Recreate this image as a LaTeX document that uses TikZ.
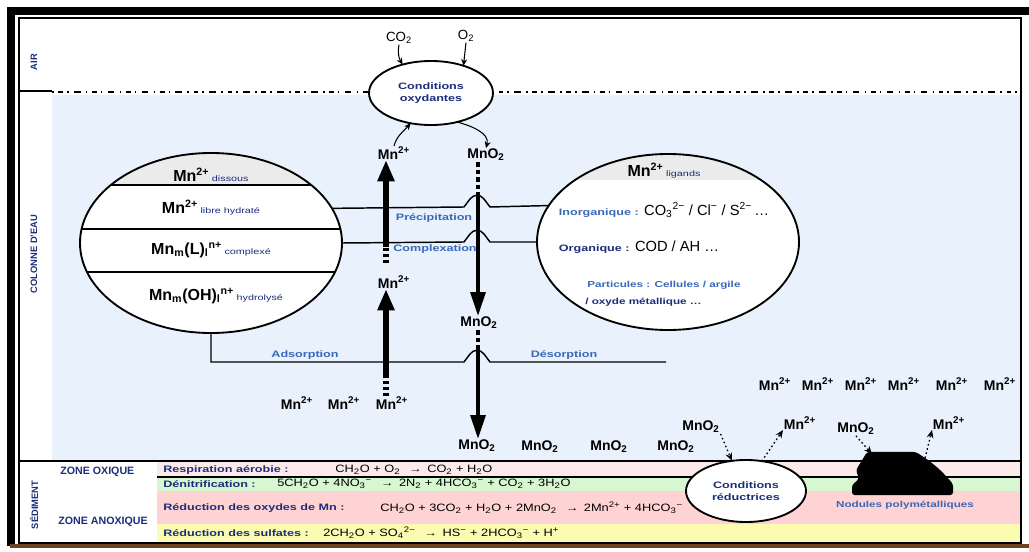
\documentclass[tikz,border=0pt]{standalone}
\usepackage{fontspec}
\setmainfont{Liberation Sans}
\newfontfamily\widesans[FakeStretch=1.35]{Liberation Sans}
\newfontfamily\eqsans[FakeStretch=1.2]{Liberation Sans}
\usetikzlibrary{arrows.meta,shapes.geometric,calc}

\definecolor{water}{HTML}{E8F1FC}
\definecolor{rowA}{HTML}{FCE9E9}
\definecolor{rowB}{HTML}{D6F7CF}
\definecolor{rowC}{HTML}{FFD3D3}
\definecolor{rowD}{HTML}{FBFBB2}
\definecolor{hdr}{HTML}{EBEBEB}
\definecolor{lbl}{HTML}{3A68B8}
\definecolor{navy}{HTML}{1C2D7A}
\definecolor{brownline}{HTML}{6E4420}

\newcommand{\chsup}[1]{\textsuperscript{#1}}
\newcommand{\chsub}[1]{\textsubscript{#1}}
\newcommand{\qual}[1]{{\widesans\fontsize{6}{7}\selectfont\mdseries\color{navy}#1}}

\begin{document}
\begin{tikzpicture}[x=0.75pt,y=-0.75pt,
  chem/.style={font=\fontsize{10.5}{12}\selectfont\bfseries, inner sep=0.5pt},
  ellchem/.style={font=\fontsize{12}{14}\selectfont\bfseries, inner sep=0.5pt},
  formula/.style={font=\fontsize{11}{13}\selectfont, inner sep=0.5pt, anchor=west},
  thinchem/.style={font=\fontsize{10}{12}\selectfont, inner sep=0.5pt},
  tag/.style={font=\widesans\fontsize{7}{8}\selectfont\bfseries, text=lbl, inner sep=1pt},
  sidelbl/.style={font=\fontsize{7}{8}\selectfont\bfseries, text=navy, rotate=90, inner sep=0},
  zone/.style={font=\fontsize{8}{9}\selectfont\bfseries, text=navy, inner sep=0, anchor=west},
  rowlbl/.style={font=\widesans\fontsize{7}{8}\selectfont\bfseries, text=navy, anchor=west, inner sep=0},
  roweq/.style={font=\eqsans\fontsize{8}{9}\selectfont, anchor=west, inner sep=0},
  link/.style={line width=1.1pt},
  bigell/.style={ellipse, fill=white, inner sep=0, outer sep=0, minimum width=196.5pt},
  condell/.style={ellipse, draw, fill=white, line width=1.4pt, inner sep=0, outer sep=0,
                  font=\widesans\fontsize{7}{8.5}\selectfont\bfseries, text=navy, align=center},
  uparr/.style={line width=4.5pt, -{Triangle[length=16pt,width=12pt]}},
  updash/.style={line width=4.5pt, dash pattern=on 2.2pt off 2.2pt},
  dnarr/.style={line width=3pt, -{Triangle[length=18pt,width=11pt]}},
  dndash/.style={line width=3pt, dash pattern=on 3.5pt off 2.2pt},
  thinarr/.style={line width=0.8pt, -{Stealth[length=5pt,width=4.5pt]}},
  dotarr/.style={line width=1pt, dash pattern=on 1.2pt off 2pt, -{Stealth[length=6pt,width=5pt]}}]

\useasboundingbox (0,0) rectangle (1029,552);

% ---------- backgrounds ----------
\fill[water] (52,95) rectangle (1021,460);
\fill[rowA] (157,462) rectangle (1021,477);
\fill[rowB] (157,477) rectangle (1021,491);
\fill[rowC] (157,491) rectangle (1021,524);
\fill[rowD] (157,524) rectangle (1021,542);
\draw[line width=1.4pt] (19,461) -- (1021,461);
\draw[line width=1.2pt] (157,477) -- (1021,477);

% ---------- frame ----------
\fill[black] (7,7) rectangle (1029,15);
\fill[black] (7,7) rectangle (15,546);
\draw[line width=1.1pt] (19,18) rectangle (1021,543);
\fill[brownline] (10,544) rectangle (1029,548);

% ---------- water surface ----------
\draw[line width=1.1pt] (19,91) -- (52,91);
\draw[line width=1.1pt, dash pattern=on 1.2pt off 3.5pt on 3.5pt off 3pt on 1.2pt off 4pt on 5pt off 4pt]
  (52,92) -- (1021,92);

% ---------- side labels ----------
\node[sidelbl] (air) at (34,62) {AIR};
\node[sidelbl] (col) at (34,254) {COLONNE D'EAU};
\node[sidelbl] (sed) at (34,505) {SÉDIMENT};
\node[zone] (zox) at (60,472) {ZONE OXIQUE};
\node[zone] (zanox) at (58,522) {ZONE ANOXIQUE};

% ---------- oxidising conditions ----------
\node[condell, minimum width=93pt, minimum height=48pt] (ox) at (431,93) {Conditions\\oxydantes};
\node[thinchem] (co2) at (399,38) {CO\chsub{2}};
\node[thinchem] (o2) at (466,36) {O\chsub{2}};
\draw[thinarr] (co2.south) to[bend right=20] (ox.135);
\draw[thinarr] (o2.south) -- (ox.40);

% ---------- dissolved Mn ellipse ----------
\node[bigell, minimum height=135pt] (lell) at (211,243) {};
\begin{scope}
  \clip (211,243) ellipse [x radius=131, y radius=90];
  \fill[hdr] (70,150) rectangle (350,185);
  \draw[link] (70,185) -- (350,185);
  \draw[link] (70,229) -- (350,229);
  \draw[link] (70,272) -- (350,272);
\end{scope}
\draw[line width=1.4pt] (211,243) ellipse [x radius=131, y radius=90];
\node[ellchem] (ldiss) at (211,175) {Mn\chsup{2+}\,\qual{dissous}};
\node[ellchem] (lfree) at (211,208) {Mn\chsup{2+}\,\qual{libre hydraté}};
\node[ellchem] (lcplx) at (211,250) {Mn\chsub{m}(L)\chsub{l}\chsup{n+}\,\qual{complexé}};
\node[ellchem] (lhydr) at (216,296) {Mn\chsub{m}(OH)\chsub{l}\chsup{n+}\,\qual{hydrolysé}};

% ---------- ligand ellipse ----------
\node[bigell, minimum height=132pt] (rell) at (668,242) {};
\begin{scope}
  \clip (668,242) ellipse [x radius=131, y radius=88];
  \fill[hdr] (530,150) rectangle (800,180);
\end{scope}
\draw[line width=1.4pt] (668,242) ellipse [x radius=131, y radius=88];
\node[ellchem] (rhead) at (664,171) {Mn\chsup{2+}\,\qual{ligands}};
\node[formula] (rinorg) at (558,210) {{\widesans\fontsize{7}{8}\selectfont\bfseries\color{lbl}Inorganique :} CO\chsub{3}\chsup{2−} / Cl\chsup{−} / S\chsup{2−}\,…};
\node[formula] (rorg) at (558,247) {{\widesans\fontsize{7}{8}\selectfont\bfseries\color{navy}Organique :} COD / AH …};
\node[font=\widesans\fontsize{6.5}{8}\selectfont\bfseries, text=lbl, inner sep=0, anchor=west] (rpart) at (587,285) {Particules : Cellules / argile};
\node[font=\widesans\fontsize{6.5}{8}\selectfont\bfseries, text=navy, inner sep=0, anchor=west] (rpart2) at (585,302) {/ oxyde métallique …};

% ---------- water column species ----------
\node[chem] (mntop) at (394,153) {Mn\chsup{2+}};
\node[chem] (mnotop) at (486,155) {MnO\chsub{2}};
\node[chem] (mnmid) at (394,282) {Mn\chsup{2+}};
\node[chem] (mnomid) at (479,323) {MnO\chsub{2}};
\node[chem] (mnb1) at (297,403) {Mn\chsup{2+}};
\node[chem] (mnb2) at (344,403) {Mn\chsup{2+}};
\node[chem] (mnb3) at (392,403) {Mn\chsup{2+}};
\node[chem] (mno1) at (477,446) {MnO\chsub{2}};
\node[chem] (mno2) at (540,447) {MnO\chsub{2}};
\node[chem] (mno3) at (609,447) {MnO\chsub{2}};
\node[chem] (mno4) at (676,447) {MnO\chsub{2}};

\draw[thinarr] (mntop.north) to[out=75,in=230] (ox.236);
\draw[thinarr] (ox.312) to[out=-15,in=75] (mnotop.north);

% ---------- exchanges between the two ellipses ----------
\draw[link] (lell.16.7) -- (464,207) -- (470,199) .. controls (474,194) and (480,194) .. (484,199) -- (490,207) -- (rell.163.8);
\draw[link] (lell.0) -- (464,242) -- (470,234) .. controls (474,229) and (480,229) .. (484,234) -- (490,242) -- (rell.180);
\draw[link] (lell.south) -- (211,362) -- (464,362) -- (470,354) .. controls (474,349) and (480,349) .. (484,354) -- (490,362) -- (666,362);
\node[tag] (prec) at (434,218) {Précipitation};
\node[tag] (cplx) at (435,249) {Complexation};
\node[tag] (ads) at (305,355) {Adsorption};
\node[tag] (des) at (564,355) {Désorption};

% ---------- vertical transfers ----------
\coordinate (u1a) at (386,263);
\coordinate (u1b) at (386,247);
\coordinate (u2b) at (386,376);
\draw[updash] (u1a) -- (u1b);
\draw[uparr] (u1b) -- (u1b |- mntop.south);
\draw[updash] (mnb3.north -| u2b) -- (u2b);
\draw[uparr] (u2b) -- (u2b |- mnmid.south);

\coordinate (d1b) at (478,196);
\coordinate (d2b) at (478,348);
\draw[dndash] (mnotop.south -| d1b) -- (d1b);
\draw[dnarr] (d1b) -- (d1b |- mnomid.north);
\draw[dndash] (mnomid.south -| d2b) -- (d2b);
\draw[dnarr] (d2b) -- (d2b |- mno1.north);

% ---------- Mn2+ released to the water ----------
\node[chem] (mr1) at (775,384) {Mn\chsup{2+}};
\node[chem] (mr2) at (818,384) {Mn\chsup{2+}};
\node[chem] (mr3) at (861,384) {Mn\chsup{2+}};
\node[chem] (mr4) at (904,384) {Mn\chsup{2+}};
\node[chem] (mr5) at (952,384) {Mn\chsup{2+}};
\node[chem] (mr6) at (1000,384) {Mn\chsup{2+}};

% ---------- reducing conditions and nodule ----------
\node[condell, minimum width=90pt, minimum height=46.5pt] (red) at (746,491) {Conditions\\réductrices};
\node[chem] (mnoA) at (701,427) {MnO\chsub{2}};
\node[chem] (mnA) at (800,423) {Mn\chsup{2+}};
\node[chem] (mnoB) at (856,429) {MnO\chsub{2}};
\node[chem] (mnB) at (949,423) {Mn\chsup{2+}};
\draw[dotarr] (mnoA.south east) -- (red.115);
\draw[dotarr] (red.62) -- (mnA.south west);

\fill[black, rounded corners=2pt] (867,452) -- (916,452) -- (928,460) -- (938,468) -- (946,476) -- (953,484)
  -- (953,495) -- (852,495) -- (852,485) -- (859,479) -- (856,470) -- (861,462) -- cycle;
\coordinate (blobL) at (872,454);
\coordinate (blobR) at (925,458);
\draw[dotarr] (mnoB.south) -- (blobL);
\draw[dotarr] (blobR) -- (mnB.south west);
\node[font=\widesans\fontsize{6.5}{8}\selectfont\bfseries, text=lbl, inner sep=0] (nod) at (905,505) {Nodules polymétalliques};

% ---------- sediment reactions ----------
\node[rowlbl] (r1l) at (163,470) {Respiration aérobie :};
\node[roweq] (r1e) at (335,470) {CH\chsub{2}O + O\chsub{2} \enspace→\enspace CO\chsub{2} + H\chsub{2}O};
\node[rowlbl] (r2l) at (163,484) {Dénitrification :};
\node[roweq] (r2e) at (277,484) {5CH\chsub{2}O + 4NO\chsub{3}\chsup{−} \enspace→\enspace 2N\chsub{2} + 4HCO\chsub{3}\chsup{−} + CO\chsub{2} + 3H\chsub{2}O};
\node[rowlbl] (r3l) at (163,508) {Réduction des oxydes de Mn :};
\node[roweq] (r3e) at (380,508) {CH\chsub{2}O + 3CO\chsub{2} + H\chsub{2}O + 2MnO\chsub{2} \enspace→\enspace 2Mn\chsup{2+} + 4HCO\chsub{3}\chsup{−}};
\node[rowlbl] (r4l) at (163,533) {Réduction des sulfates :};
\node[roweq] (r4e) at (323,533) {2CH\chsub{2}O + SO\chsub{4}\chsup{2−} \enspace→\enspace HS\chsup{−} + 2HCO\chsub{3}\chsup{−} + H\chsup{+}};

\end{tikzpicture}
\end{document}
